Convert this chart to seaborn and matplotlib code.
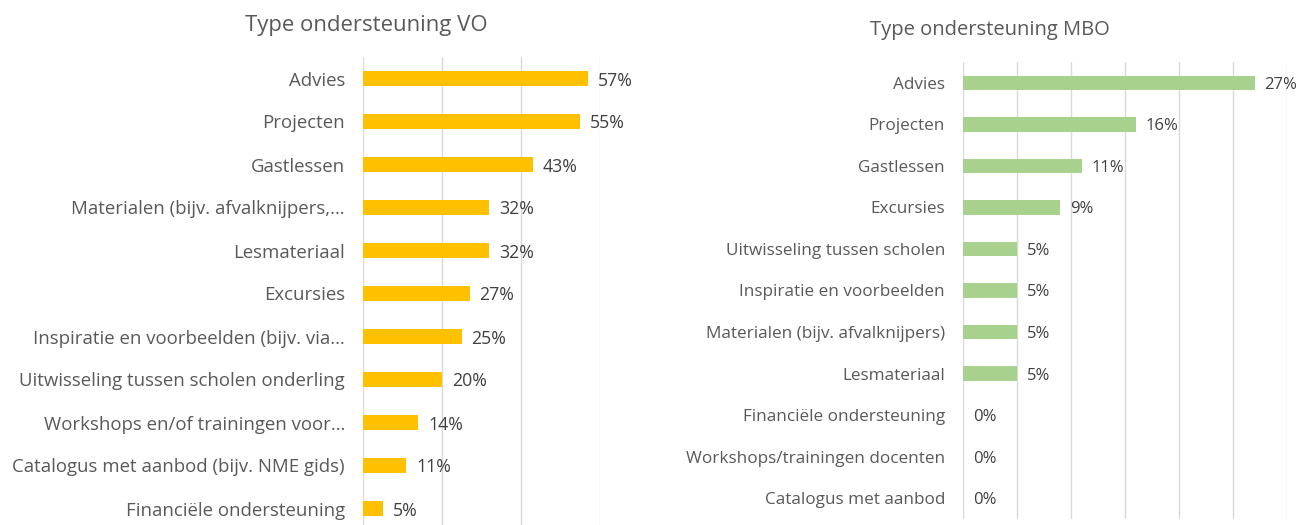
import pandas as pd
import matplotlib
matplotlib.use('Agg')
import matplotlib.pyplot as plt
import seaborn as sns

# data VO (links)
vo_labels = ['Advies', 'Projecten', 'Gastlessen', 'Materialen (bijv. afvalknijpers,…',
             'Lesmateriaal', 'Excursies', 'Inspiratie en voorbeelden (bijv. via…',
             'Uitwisseling tussen scholen onderling', 'Workshops en/of trainingen voor…',
             'Catalogus met aanbod (bijv. NME gids)', 'Financiële ondersteuning']
vo_values = [57, 55, 43, 32, 32, 27, 25, 20, 14, 11, 5]

# data MBO (rechts)
mbo_labels = ['Advies', 'Projecten', 'Gastlessen', 'Excursies', 'Uitwisseling tussen scholen',
              'Inspiratie en voorbeelden', 'Materialen (bijv. afvalknijpers)', 'Lesmateriaal',
              'Financiële ondersteuning', 'Workshops/trainingen docenten', 'Catalogus met aanbod']
mbo_values = [27, 16, 11, 9, 5, 5, 5, 5, 0, 0, 0]

sns.set_style('white')
plt.rcParams['font.family'] = ['Open Sans', 'DejaVu Sans']

W, H = 1309, 525
fig = plt.figure(figsize=(W / 100, H / 100), dpi=100)


def px_axes(x0, x1, y0, y1):
    # pixelcoördinaten (boven = 0) naar figuurfracties
    return fig.add_axes([x0 / W, 1 - y1 / H, (x1 - x0) / W, (y1 - y0) / H])


def draw(ax, labels, values, color, xmax, step, fs, vfs):
    df = pd.DataFrame({'label': labels, 'value': values})
    sns.barplot(data=df, x='value', y='label', orient='h', color=color,
                width=0.35, saturation=1, linewidth=0, ax=ax)
    ax.set_xlim(0, xmax)
    ax.set_ylim(len(labels) - 0.5, -0.5)
    ax.set_xticks(range(0, xmax + 1, step))
    ax.set_xticklabels([])
    ax.tick_params(axis='x', length=0)
    ax.tick_params(axis='y', length=0, pad=13, labelsize=fs, labelcolor='#595959')
    ax.grid(axis='x', color='#D9D9D9', lw=1)
    ax.set_axisbelow(True)
    for s in ax.spines.values():
        s.set_visible(False)
    ax.set_xlabel('')
    ax.set_ylabel('')
    for i, v in enumerate(values):
        ax.annotate(f'{v}%', (v, i), xytext=(7, 0), textcoords='offset points',
                    va='center_baseline', ha='left', fontsize=vfs,
                    color='#404040', annotation_clip=False)


ax1 = px_axes(363, 600, 57, 530)
draw(ax1, vo_labels, vo_values, '#FFC000', 60, 20, 13.4, 12.8)

ax2 = px_axes(963, 1287, 62, 519)
draw(ax2, mbo_labels, mbo_values, '#A9D18E', 30, 5, 12.3, 12)

fig.text(366 / W, 1 - 25 / H, 'Type ondersteuning VO', ha='center', va='center',
         fontsize=15.9, color='#595959')
fig.text(990 / W, 1 - 30 / H, 'Type ondersteuning MBO', ha='center', va='center',
         fontsize=14.5, color='#595959')

fig.savefig('out.png', dpi=100)
